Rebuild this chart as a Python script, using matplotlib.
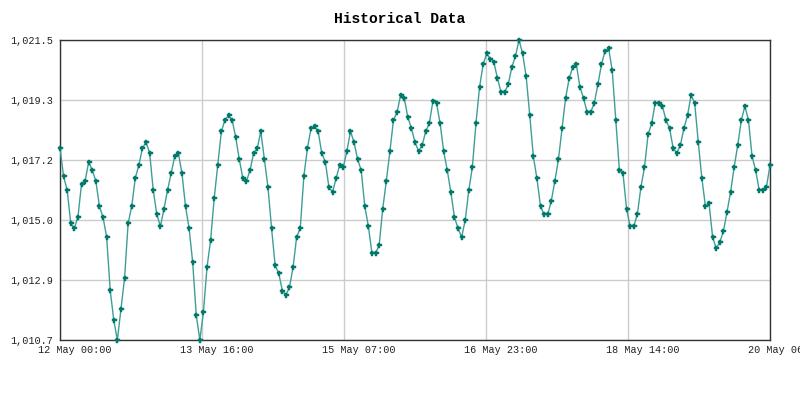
import numpy as np
import matplotlib
matplotlib.use("Agg")
from matplotlib import pyplot as plt
from matplotlib import transforms

# hourly readings, 12 May 00:00 .. 20 May 06:00
pressure = [
    1017.60, 1016.59, 1016.10, 1014.90, 1014.72, 1015.12, 1016.32, 1016.42, 1017.11, 1016.82,
    1016.42, 1015.51, 1015.12, 1014.41, 1012.49, 1011.41, 1010.70, 1011.80, 1012.92, 1014.90,
    1015.51, 1016.53, 1017.00, 1017.61, 1017.82, 1017.43, 1016.10, 1015.22, 1014.79, 1015.42,
    1016.10, 1016.71, 1017.31, 1017.43, 1016.71, 1015.51, 1014.72, 1013.50, 1011.59, 1010.70,
    1011.71, 1013.32, 1014.29, 1015.80, 1017.00, 1018.21, 1018.62, 1018.79, 1018.62, 1018.00,
    1017.20, 1016.52, 1016.42, 1016.81, 1017.43, 1017.60, 1018.21, 1017.20, 1016.20, 1014.72,
    1013.39, 1013.10, 1012.48, 1012.32, 1012.60, 1013.32, 1014.41, 1014.72, 1016.59, 1017.60,
    1018.32, 1018.40, 1018.21, 1017.42, 1017.11, 1016.20, 1016.02, 1016.52, 1017.00, 1016.92,
    1017.49, 1018.21, 1017.82, 1017.20, 1016.81, 1015.51, 1014.79, 1013.82, 1013.82, 1014.11,
    1015.42, 1016.42, 1017.49, 1018.62, 1018.90, 1019.52, 1019.41, 1018.72, 1018.32, 1017.82,
    1017.49, 1017.71, 1018.21, 1018.50, 1019.30, 1019.23, 1018.50, 1017.49, 1016.81, 1016.02,
    1015.12, 1014.72, 1014.40, 1015.01, 1016.09, 1016.92, 1018.50, 1019.80, 1020.62, 1021.02,
    1020.82, 1020.70, 1020.12, 1019.62, 1019.62, 1019.90, 1020.52, 1020.91, 1021.50, 1021.02,
    1020.19, 1018.79, 1017.31, 1016.52, 1015.51, 1015.22, 1015.22, 1015.70, 1016.42, 1017.20,
    1018.32, 1019.41, 1020.12, 1020.52, 1020.62, 1019.80, 1019.41, 1018.90, 1018.90, 1019.23,
    1019.90, 1020.62, 1021.10, 1021.20, 1020.41, 1018.61, 1016.81, 1016.70, 1015.42, 1014.79,
    1014.79, 1015.22, 1016.20, 1016.92, 1018.10, 1018.50, 1019.23, 1019.23, 1019.12, 1018.61,
    1018.32, 1017.60, 1017.43, 1017.71, 1018.32, 1018.79, 1019.51, 1019.23, 1017.82, 1016.52,
    1015.51, 1015.62, 1014.40, 1014.00, 1014.22, 1014.61, 1015.30, 1016.02, 1016.92, 1017.71,
    1018.61, 1019.12, 1018.61, 1017.31, 1016.81, 1016.09, 1016.09, 1016.20, 1016.99,
]
hours = np.arange(len(pressure))

x_tick_labels = ["12 May 00:00", "13 May 16:00", "15 May 07:00",
                 "16 May 23:00", "18 May 14:00", "20 May 06:00"]

mono = ["Liberation Mono", "DejaVu Sans Mono"]

fig = plt.figure(figsize=(8, 4), dpi=100)
ax = fig.add_axes([0.075, 0.15, 0.8875, 0.75])

ax.plot(hours, pressure, color="#3f9e95", lw=1.0, zorder=3)
ax.plot(hours, pressure, ls="none", marker="P", ms=3.6, color="#00796b",
        mec="#00796b", mew=0.3, zorder=4, clip_on=False)

ymin, ymax = min(pressure), max(pressure)
ax.set_xlim(hours[0], hours[-1])
ax.set_ylim(ymin, ymax)

yt = np.linspace(ymin, ymax, 6)
ax.set_yticks(yt)
ax.set_yticklabels(["{:,.1f}".format(v) for v in yt], family=mono, fontsize=7.3)
xt = np.linspace(hours[0], hours[-1], 6)
ax.set_xticks(xt)
ax.set_xticklabels([])

# x labels start a bit left of their grid line, as in the original
shift = transforms.ScaledTranslation(-22 / 100, -5 / 100, fig.dpi_scale_trans)
for pos, lab in zip(xt, x_tick_labels):
    ax.text(pos, 0, lab, transform=ax.get_xaxis_transform() + shift,
            ha="left", va="top", family=mono, fontsize=7.3, color="#222222",
            clip_on=False)

ax.tick_params(length=0, pad=5, colors="#222222")
ax.grid(True, color="#cccccc", lw=1)
ax.set_axisbelow(True)
for s in ax.spines.values():
    s.set_color("#333333")
    s.set_linewidth(1)

fig.suptitle("Historical Data", y=0.97, family=mono, fontsize=10.5, fontweight="bold")

fig.savefig("out.png", dpi=100)
